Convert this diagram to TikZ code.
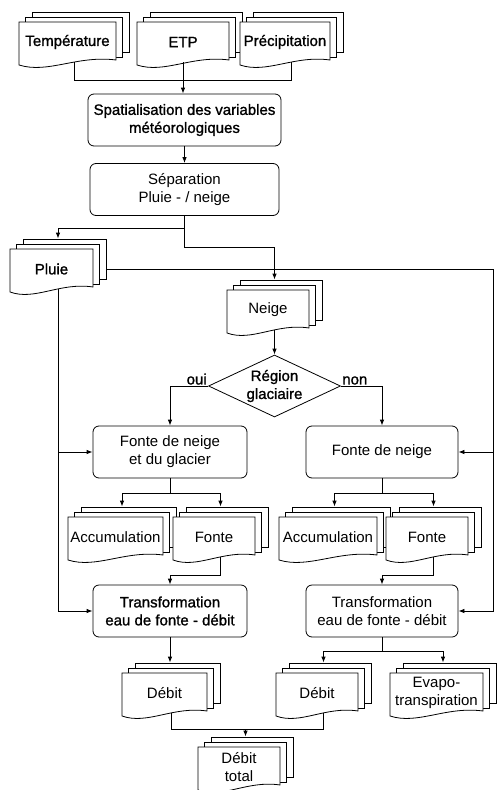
\documentclass[tikz,border=0pt]{standalone}
\usepackage{fontspec}
\setmainfont{Liberation Sans}
\newfontfamily\gras{Liberation Sans}[FakeBold=1.2]
\usetikzlibrary{arrows.meta,shapes.geometric,calc}

% pile de documents : #2 nom, #3 #4 coin haut gauche, #5 largeur, #6 texte
\newcommand\pile[6][]{%
  \node[feuille,minimum width=#5pt] (#2-3) at (#3+13+#5/2,#4+10) {};
  \node[feuille,minimum width=#5pt] (#2-2) at (#3+6.5+#5/2,#4+15) {};
  \filldraw[fill=white] (#3,#4) -- (#3+#5,#4) -- (#3+#5,#4+38)
    .. controls (#3+0.6*#5,#4+33) and (#3+0.3*#5,#4+52) .. (#3,#4+43) -- cycle;
  \node[texte,minimum width=#5pt,#1] (#2) at (#3+#5/2,#4+20) {#6};
}

\begin{document}
\begin{tikzpicture}[x=1pt,y=-1pt,line width=0.8pt,>={Latex[length=6pt,width=4.5pt]},
  base/.style={font=\fontsize{15}{18}\selectfont},
  fort/.style={font=\gras\fontsize{15}{18}\selectfont},
  feuille/.style={draw,fill=white,minimum height=40pt,inner sep=0pt},
  texte/.style={base,minimum height=40pt,inner sep=1pt,align=center},
  etape/.style={base,draw,rounded corners=6pt,minimum height=52pt,inner sep=2pt,align=center}]
\useasboundingbox (0,0) rectangle (496,790);

\pile[fort]{temperature}{19}{22}{97}{Température}
\pile[fort]{etp}{137}{22}{92}{ETP}
\pile[fort]{precipitation}{240}{22}{90}{Précipitation}
\node[etape,fort,minimum width=193pt] (spatialisation) at (184.5,120) {Spatialisation des variables\\météorologiques};
\node[etape,minimum width=189pt] (separation) at (184.5,189.5) {Séparation\\Pluie - / neige};
\pile[fort]{pluie}{10}{249}{83}{Pluie}
\pile{neige}{227}{290}{82}{Neige}
\node[draw,diamond,aspect=2.1,minimum width=132pt,minimum height=62pt,inner sep=0pt,fort,align=center] (region) at (274.5,386) {Région\\glaciaire};
\node[etape,minimum width=154pt] (fonteglacier) at (170,452) {Fonte de neige\\et du glacier};
\node[etape,minimum width=152pt] (fonteneige) at (382,452) {Fonte de neige};
\pile{accuG}{68}{517}{95}{Accumulation}
\pile{fonteG}{173}{517}{82}{Fonte}
\pile{accuD}{279}{517}{98}{Accumulation}
\pile{fonteD}{386}{517}{82}{Fonte}
\node[etape,fort,minimum width=154pt] (transfoG) at (170,611) {Transformation\\eau de fonte - débit};
\node[etape,minimum width=152pt] (transfoD) at (382,611) {Transformation\\eau de fonte - débit};
\pile{debitG}{122}{673}{85}{Débit}
\pile{debitD}{276}{673}{82}{Débit}
\pile{evapo}{390}{673}{93}{Evapo-\\transpiration}
\pile{total}{198}{747}{82}{Débit\\total}

\draw (temperature.south -| temperature-2) -- ++(0,18) -| (precipitation.south -| precipitation-2);
\draw[->] (etp.south) -- (etp.south |- spatialisation.north);
\draw[->] (spatialisation) -- (separation);
\draw[->] (separation.south) -- ++(0,12) -| (pluie-2.north |- pluie-3.north);
\draw[->] (separation.south) -- ++(0,31) -| (neige-2.north |- neige-3.north);
\draw[->] (pluie-3.east |- pluie) -| ($(transfoD.east)+(35,0)$) -- (transfoD.east);
\draw[->] ($(fonteneige.east)+(35,0)$) -- (fonteneige.east);
\draw[->] (pluie.south -| pluie-2) |- (transfoG.west);
\draw[->] (pluie.south -| pluie-2) |- (fonteglacier.west);
\draw[->] (neige.south -| neige-2) -- (region.north);
\draw[->] (region.west) node[fort,anchor=south east,inner sep=1pt] {oui} -| (fonteglacier.north);
\draw[->] (region.east) node[fort,anchor=south west,inner sep=1pt] {non} -| (fonteneige.north);
\draw[->] (fonteglacier.south) -- ++(0,15) -| (accuG-2.north |- accuG-3.north);
\draw[->] (fonteglacier.south) -- ++(0,15) -| (fonteG-2.north |- fonteG-3.north);
\draw[->] (fonteneige.south) -- ++(0,15) -| (accuD-2.north |- accuD-3.north);
\draw[->] (fonteneige.south) -- ++(0,15) -| (fonteD-2.north |- fonteD-3.north);
\draw[->] (fonteG.south -| fonteG-2) -- ++(0,18) -| (transfoG.north);
\draw[->] (fonteD.south -| fonteD-2) -- ++(0,18) -| (transfoD.north);
\draw[->] (transfoG.south) -- (transfoG.south |- debitG-3.north);
\draw[->] (transfoD.south) -- ++(0,14) -| (debitD-2.north |- debitD-3.north);
\draw[->] (transfoD.south) -- ++(0,14) -| (evapo-2.north |- evapo-3.north);
\draw (debitG.south -| debitG-2) -- ++(0,16) -| (debitD.south -| debitD-2);
\draw[->] ($(debitG.south -| total-2)+(0,16)$) -- (total-2.north |- total-3.north);
\end{tikzpicture}
\end{document}
